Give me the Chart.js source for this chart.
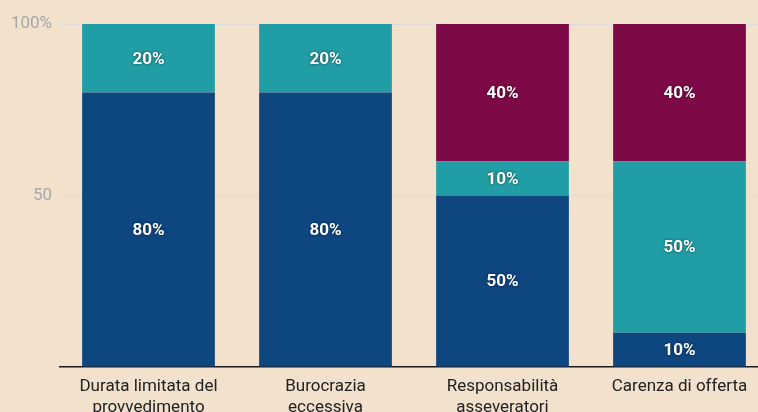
<!DOCTYPE html>
<html lang="it">
<head>
<meta charset="UTF-8">
<title>Ostacoli</title>
<style>
    html, body { margin: 0; padding: 0; background: #f2e1cd; overflow: hidden; }
    .wrap { position: relative; width: 768px; height: 412px; }
</style>
<script src="https://cdn.jsdelivr.net/npm/chart.js"></script>
</head>
<body>
<div class="wrap"><canvas id="chart"></canvas></div>
<script>
    // categories (two-line labels) and stacked shares
    const categories = [
        ['Durata limitata del', 'provvedimento'],
        ['Burocrazia', 'eccessiva'],
        ['Responsabilità', 'asseveratori'],
        ['Carenza di offerta']
    ];
    const seriesBlue   = [80, 80, 50, 10];
    const seriesTeal   = [20, 20, 10, 50];
    const seriesMaroon = [0, 0, 40, 40];
    const yTicks = [0, 50, 100];

    // white bold labels in the middle of each segment
    const segmentLabels = {
        id: 'segmentLabels',
        afterDatasetsDraw(chart) {
            const ctx = chart.ctx;
            ctx.save();
            ctx.font = 'bold 17px Roboto, sans-serif';
            ctx.fillStyle = '#fff';
            ctx.textAlign = 'center';
            ctx.textBaseline = 'middle';
            ctx.shadowColor = 'rgba(0,0,0,0.55)';
            ctx.shadowBlur = 3;
            chart.data.datasets.forEach((ds, i) => {
                chart.getDatasetMeta(i).data.forEach((bar, j) => {
                    const v = ds.data[j];
                    if (!v) return;
                    const mid = (bar.y + bar.base) / 2;
                    ctx.fillText(v + '%', bar.x, mid + 1);
                });
            });
            ctx.restore();
        }
    };

    new Chart(document.getElementById('chart'), {
        type: 'bar',
        data: {
            labels: categories,
            datasets: [
                { data: seriesBlue, backgroundColor: '#0e4680' },
                { data: seriesTeal, backgroundColor: '#219ea5' },
                { data: seriesMaroon, backgroundColor: '#7d0a46' }
            ]
        },
        options: {
            responsive: true,
            maintainAspectRatio: false,
            animation: false,
            layout: { padding: { top: 24, right: 0, left: 0, bottom: 0 } },
            datasets: { bar: { categoryPercentage: 1, barPercentage: 0.75 } },
            plugins: { legend: { display: false }, tooltip: { enabled: false } },
            scales: {
                x: {
                    stacked: true,
                    grid: { display: false },
                    border: { display: true, color: '#1a1a1a', width: 1.5 },
                    ticks: { color: '#222', font: { family: 'Roboto', size: 17 }, padding: 2, maxRotation: 0 },
                    afterFit(scale) { scale.height = 45; }
                },
                y: {
                    stacked: true,
                    min: 0,
                    max: 100,
                    afterBuildTicks(scale) { scale.ticks = yTicks.map(v => ({ value: v })); },
                    grid: {
                        drawTicks: false,
                        color: ctx => ctx.tick && ctx.tick.value === 0 ? 'rgba(0,0,0,0)' : '#dcdcdc'
                    },
                    border: { display: false },
                    ticks: {
                        color: '#a8a8a8',
                        font: { family: 'Roboto', size: 17 },
                        padding: 8,
                        callback: v => v === 100 ? '100%' : (v === 0 ? '' : v)
                    },
                    afterFit(scale) { scale.width = 60; }
                }
            }
        },
        plugins: [segmentLabels]
    });
</script>
</body>
</html>
